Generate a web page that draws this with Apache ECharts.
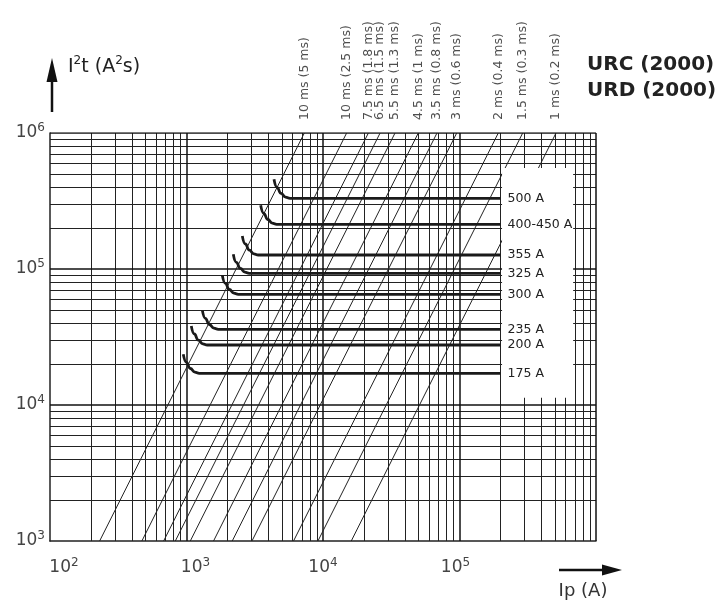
<!DOCTYPE html>
<html><head><meta charset="utf-8">
<script src="https://cdn.jsdelivr.net/npm/echarts@6/dist/echarts.min.js"></script>
<style>html,body{margin:0;padding:0;background:#fff}#main{width:720px;height:603px}</style>
</head><body><div id="main"></div>
<script>
// ---------- data ----------
const xDecades = [100, 1000, 10000, 100000, 1000000];
const yDecades = [1000, 10000, 100000, 1000000];
const mantissas = [2, 3, 4, 5, 6, 7, 8, 9];

const timeLabels = ['10 ms (5 ms)', '10 ms (2.5 ms)', '7.5 ms (1.8 ms)', '6.5 ms (1.5 ms)', '5.5 ms (1.3 ms)',
  '4.5 ms (1 ms)', '3.5 ms (0.8 ms)', '3 ms (0.6 ms)', '2 ms (0.4 ms)', '1.5 ms (0.3 ms)', '1 ms (0.2 ms)'];
// Ip where each constant-time line meets I2t = 1e3 and I2t = 1e6
const timeLineIpLow = [231, 471, 680, 828, 1066, 1578, 2163, 3017, 6084, 9183, 16105];
const timeLineIpHigh = [7300, 14900, 21500, 26200, 33700, 49900, 68400, 95400, 192400, 290400, 509300];

const fuseLabels = ['500 A', '400-450 A', '355 A', '325 A', '300 A', '235 A', '200 A', '175 A'];
const fuseIp = [
  [4375, 4603, 4924, 5312, 5731, 200000],
  [3495, 3678, 3935, 4245, 4579, 200000],
  [2563, 2697, 2885, 3112, 3357, 200000],
  [2202, 2317, 2479, 2674, 2885, 200000],
  [1829, 1924, 2058, 2221, 2396, 200000],
  [1306, 1373, 1469, 1585, 1710, 200000],
  [1084, 1141, 1220, 1316, 1420, 200000],
  [947, 997, 1066, 1150, 1241, 200000]
];
const fuseI2t = [
  [456700, 398800, 359200, 337900, 331100, 331100],
  [294000, 256800, 231200, 217500, 213200, 213200],
  [174800, 152700, 137500, 129300, 126800, 126800],
  [128300, 112000, 100900, 94890, 92980, 92980],
  [89880, 78510, 70700, 66500, 65160, 65160],
  [49690, 43410, 39070, 36760, 36030, 36030],
  [38090, 33270, 29960, 28180, 27620, 27620],
  [23600, 20610, 18550, 17460, 17110, 17110]
];

// ---------- build ----------
const FONT = 'DejaVu Sans';
const xMin = xDecades[0], xMax = xDecades[xDecades.length - 1];
const yMin = yDecades[0], yMax = yDecades[yDecades.length - 1];

const minorGrid = [], majorGrid = [];
xDecades.forEach((d, i) => {
  if (i > 0) majorGrid.push({coords: [[d, yMin], [d, yMax]]});
  if (i < xDecades.length - 1) mantissas.forEach(m => minorGrid.push({coords: [[m * d, yMin], [m * d, yMax]]}));
});
yDecades.forEach((d, i) => {
  if (i > 0) majorGrid.push({coords: [[xMin, d], [xMax, d]]});
  if (i < yDecades.length - 1) mantissas.forEach(m => minorGrid.push({coords: [[xMin, m * d], [xMax, m * d]]}));
});

const series = [
  {type: 'lines', coordinateSystem: 'cartesian2d', z: 1, silent: true, polyline: false,
   lineStyle: {color: '#222', width: 1, opacity: 1}, data: minorGrid},
  {type: 'lines', coordinateSystem: 'cartesian2d', z: 1, silent: true, polyline: false,
   lineStyle: {color: '#111', width: 1.5, opacity: 1}, data: majorGrid},
  {type: 'lines', coordinateSystem: 'cartesian2d', z: 2, silent: true, polyline: false,
   lineStyle: {color: '#222', width: 1, opacity: 1},
   data: timeLabels.map((t, i) => ({coords: [[timeLineIpLow[i], yMin], [timeLineIpHigh[i], yMax]]}))},
  {type: 'scatter', z: 4, silent: true, symbolSize: 0, clip: false,
   data: timeLabels.map((t, i) => ({name: t, value: [timeLineIpHigh[i], yMax]})),
   label: {show: true, formatter: '{b}', position: 'top', distance: 13, rotate: 90,
           align: 'left', verticalAlign: 'middle', fontFamily: FONT, fontSize: 12.5, color: '#222'}}
];
fuseLabels.forEach((name, i) => {
  series.push({
    type: 'line', name: name, z: 4, silent: true, symbol: 'none', smooth: 0.5, smoothMonotone: 'x',
    lineStyle: {color: '#1a1a1a', width: 2.8},
    data: fuseIp[i].map((x, j) => [x, fuseI2t[i][j]]),
    endLabel: {show: true, formatter: '{a}', distance: 7, fontFamily: FONT, fontSize: 12.5, color: '#222'}
  });
});

const supRich = (shiftR) => ({
  fontFamily: FONT, fontSize: 12, lineHeight: 12, verticalAlign: 'top', color: '#444', padding: [0, shiftR, 0, 0]
});
const baseStyle = (padL) => ({fontFamily: FONT, fontSize: 17, lineHeight: 22, color: '#444', padding: [0, 0, 0, padL]});

const chart = echarts.init(document.getElementById('main'));
const option = {
  animation: false,
  backgroundColor: '#fff',
  title: {text: 'URC (2000)\nURD (2000)', left: 582, top: 47,
          textStyle: {fontFamily: FONT, fontWeight: 'bold', fontSize: 20, lineHeight: 26, color: '#222'}},
  grid: {left: 50, top: 133, width: 546, height: 408, containLabel: false},
  xAxis: {
    type: 'log', logBase: 10, min: xMin, max: xMax,
    axisLine: {show: true, onZero: false, lineStyle: {color: '#222', width: 1.5}},
    axisTick: {show: false}, splitLine: {show: false},
    axisLabel: {
      margin: 16,
      formatter: v => { const e = Math.round(Math.log10(v)); return e > 5 ? '' : '{b' + e + '|10}{s' + e + '|' + e + '}'; },
      rich: {b2: baseStyle(28), b3: baseStyle(18), b4: baseStyle(0), b5: baseStyle(0),
             s2: supRich(0), s3: supRich(0), s4: supRich(0), s5: supRich(8)}
    },
    name: 'Ip (A)', nameLocation: 'end', nameGap: -13,
    nameTextStyle: {fontFamily: FONT, fontSize: 18, color: '#333', align: 'center', verticalAlign: 'top', padding: [41, 0, 0, 0]}
  },
  yAxis: {
    type: 'log', logBase: 10, min: yMin, max: yMax,
    axisLine: {show: true, onZero: false, lineStyle: {color: '#222', width: 1.5}},
    axisTick: {show: false}, splitLine: {show: false},
    axisLabel: {
      margin: 5,
      formatter: v => '{b|10}{s|' + Math.round(Math.log10(v)) + '}',
      rich: {b: baseStyle(0), s: supRich(0)}
    },
    name: '{a|I}{s|2}{a|t (A}{s|2}{a|s)}', nameLocation: 'end', nameGap: 54,
    nameTextStyle: {align: 'left', verticalAlign: 'bottom', padding: [0, 0, 0, 18],
      rich: {a: {fontFamily: FONT, fontSize: 19, lineHeight: 24, color: '#222'},
             s: {fontFamily: FONT, fontSize: 12, lineHeight: 12, verticalAlign: 'top', color: '#222'}}}
  },
  series: series
};
chart.setOption(option);

// white label panel on the right, placed through the axes' scales
const boxIpRange = [205000, 680000];
const boxI2tRange = [11300, 553000];
const pA = chart.convertToPixel({gridIndex: 0}, [boxIpRange[0], boxI2tRange[1]]);
const pB = chart.convertToPixel({gridIndex: 0}, [boxIpRange[1], boxI2tRange[0]]);
chart.setOption({
  graphic: [
    {type: 'rect', z: 3, silent: true,
     shape: {x: pA[0], y: pA[1], width: pB[0] - pA[0], height: pB[1] - pA[1]},
     style: {fill: '#fff'}},
    // y-axis arrow
    {type: 'line', z: 5, shape: {x1: 52, y1: 112, x2: 52, y2: 78}, style: {stroke: '#111', lineWidth: 2.5}},
    {type: 'polygon', z: 5, shape: {points: [[52, 58], [46.5, 82], [57.5, 82]]}, style: {fill: '#111'}},
    // x-axis arrow
    {type: 'line', z: 5, shape: {x1: 559, y1: 570, x2: 606, y2: 570}, style: {stroke: '#111', lineWidth: 2.5}},
    {type: 'polygon', z: 5, shape: {points: [[622, 570], [602, 564.5], [602, 575.5]]}, style: {fill: '#111'}}
  ]
});
</script>
</body></html>
